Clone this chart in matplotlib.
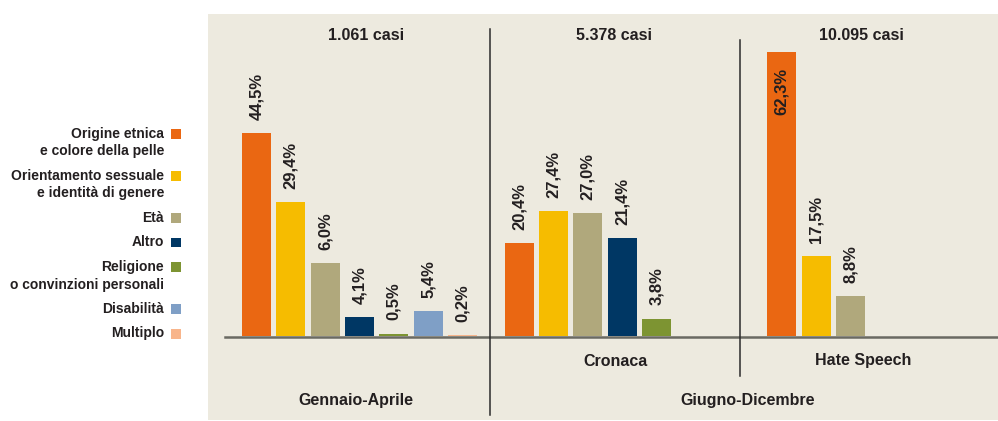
import matplotlib
matplotlib.use("Agg")
import matplotlib.pyplot as plt
import matplotlib.transforms as mtransforms
from matplotlib.patches import Rectangle

plt.rcParams['font.family'] = ['Liberation Sans', 'DejaVu Sans']
plt.rcParams['font.weight'] = 'bold'

# ---- data ----
categories = ["Origine etnica\ne colore della pelle",
              "Orientamento sessuale\ne identità di genere",
              "Età", "Altro",
              "Religione\no convinzioni personali",
              "Disabilità", "Multiplo"]
colors = ["#EA6712", "#F6BC00", "#B0A87C", "#003764", "#7D9432", "#7F9FC6", "#F8B58B"]

group_headers = ["1.061 casi", "5.378 casi", "10.095 casi"]
# bar heights as drawn in the original (the "Età" bar of the first group is drawn at ~16%)
gen_apr = [44.5, 29.4, 16.0, 4.1, 0.5, 5.4, 0.2]
gen_apr_labels = ["44,5%", "29,4%", "6,0%", "4,1%", "0,5%", "5,4%", "0,2%"]
cronaca = [20.4, 27.4, 27.0, 21.4, 3.8]
cronaca_labels = ["20,4%", "27,4%", "27,0%", "21,4%", "3,8%"]
hate = [62.3, 17.5, 8.8]
hate_labels = ["62,3%", "17,5%", "8,8%"]

groups = [gen_apr, cronaca, hate]
group_labels = [gen_apr_labels, cronaca_labels, hate_labels]

TXT = "#231F20"
BG = "#EDEADF"
W, H = 998, 421

fig = plt.figure(figsize=(W / 100, H / 100), dpi=100)
fig.patch.set_facecolor("white")

def fx(x):
    return x / W

def fy(y):
    return 1 - y / H

# beige panel
fig.patches.append(Rectangle((fx(208), fy(420)), fx(998) - fx(208), fy(14) - fy(420),
                             transform=fig.transFigure, facecolor=BG, edgecolor="none", zorder=-5))

ax = fig.add_axes([fx(225), fy(336), fx(998) - fx(225), fy(14) - fy(336)])
ax.set_facecolor("none")
ax.set_zorder(2)
ax.set_ylim(0, 70.6)
ax.set_xlim(-0.918, 21.6)
for s in ax.spines.values():
    s.set_visible(False)
ax.set_xticks([])
ax.set_yticks([])

group_step = 7.65
for g, (vals, labs) in enumerate(zip(groups, group_labels)):
    xs = [g * group_step + i for i in range(len(vals))]
    ax.bar(xs, vals, width=0.845, color=colors[:len(vals)], zorder=2)
    for x, v, lab in zip(xs, vals, labs):
        if v > 55:
            ax.text(x, v - 3.6, lab, rotation=90, ha="center", va="top",
                    fontsize=12, color=TXT, zorder=3)
        else:
            ax.text(x, v + 2.9, lab, rotation=90, ha="center", va="bottom",
                    fontsize=12, color=TXT, zorder=3)

# baseline, drawn just under the bars
base = ax.axhline(-0.15, color="#6A6A62", lw=1.8, zorder=1)
base.set_clip_on(False)

trans = mtransforms.blended_transform_factory(ax.transData, fig.transFigure)

# dividers
ax.plot([6.8, 6.8], [fy(29), fy(415)], color="#2B2B2B", lw=1.1, transform=trans, clip_on=False)
ax.plot([14.08, 14.08], [fy(40), fy(376)], color="#2B2B2B", lw=1.1, transform=trans, clip_on=False)

# headers
for x, t in zip([3.19, 10.41, 17.63], group_headers):
    ax.text(x, fy(36), t, transform=trans, ha="center", va="center", fontsize=11.5, color=TXT)

ax.text(10.45, fy(361), "Cronaca", transform=trans, ha="center", va="center", fontsize=11.5, color=TXT)
ax.text(17.67, fy(361), "Hate Speech", transform=trans, ha="center", va="center", fontsize=11.5, color=TXT)
ax.text(2.9, fy(401), "Gennaio-Aprile", transform=trans, ha="center", va="center", fontsize=11.5, color=TXT)
ax.text(14.3, fy(401), "Giugno-Dicembre", transform=trans, ha="center", va="center", fontsize=11.5, color=TXT)

# legend on the left
y = 134
for cat, col in zip(categories, colors):
    lines = cat.split("\n")
    for k, line in enumerate(lines):
        fig.text(fx(164), fy(y + k * 17.5), line, ha="right", va="center", fontsize=10, color=TXT)
    fig.patches.append(Rectangle((fx(171), fy(y + 5)), fx(10), fy(0) - fy(10),
                                 transform=fig.transFigure, facecolor=col, edgecolor="none"))
    y += 24.5 + 17.5 * (len(lines) - 1)

fig.savefig("out.png", dpi=100)
